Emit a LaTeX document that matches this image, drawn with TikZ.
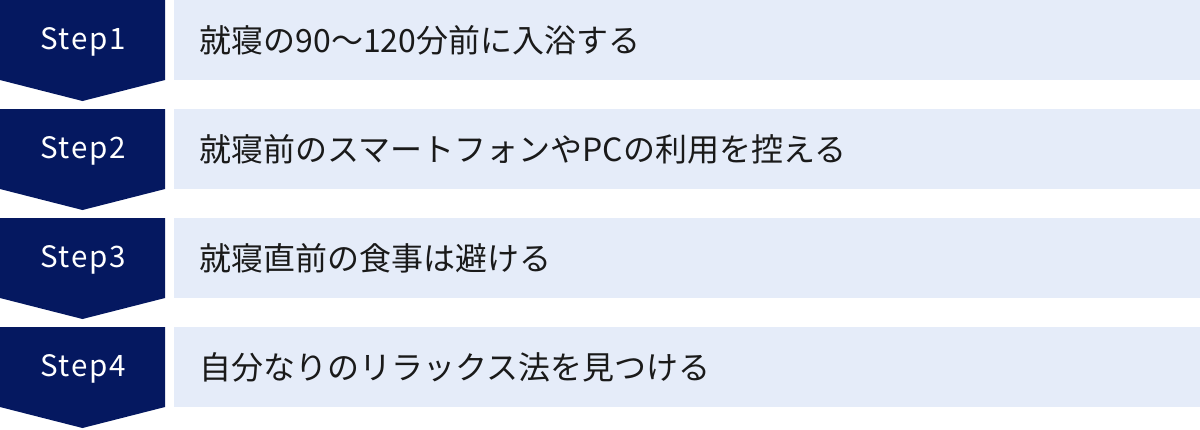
\documentclass[tikz,border=0pt]{standalone}
\usepackage{fontspec}
\setmainfont{Noto Sans CJK JP}
\newfontfamily\stepfont[LetterSpace=6]{Noto Sans CJK JP}
\usetikzlibrary{positioning}
\definecolor{navy}{RGB}{5,24,96}
\definecolor{paleblue}{RGB}{229,236,249}
\definecolor{inkgray}{RGB}{26,26,26}
\tikzset{
  steplabel/.style={anchor=base,text=white,font=\stepfont\fontsize{8.4}{10}\selectfont,inner sep=0pt},
  itemtext/.style={anchor=west,text=inkgray,font=\fontsize{9.1}{11}\selectfont,inner sep=0pt}
}
\begin{document}
\begin{tikzpicture}
    \useasboundingbox (0,0) rectangle (12,-4.29);

    % Step1
    \fill [navy] (0,0) -- (1.65,0) -- (1.65,-.8) -- (.825,-1.01) -- (0,-.8) -- cycle;
    \fill [paleblue] (1.74,0) rectangle (12,-.8);
    \node [steplabel] (s1) at (.83,-.49) {Step1};
    \node [itemtext] (t1) at (1.99,-.4) {就寝の90〜120分前に入浴する};

    % Step2
    \fill [navy] (0,-1.09) -- (1.65,-1.09) -- (1.65,-1.89) -- (.825,-2.1) -- (0,-1.89) -- cycle;
    \fill [paleblue] (1.74,-1.09) rectangle (12,-1.89);
    \node [steplabel] (s2) at (.83,-1.58) {Step2};
    \node [itemtext] (t2) at (1.99,-1.49) {就寝前のスマートフォンやPCの利用を控える};

    % Step3
    \fill [navy] (0,-2.18) -- (1.65,-2.18) -- (1.65,-2.98) -- (.825,-3.19) -- (0,-2.98) -- cycle;
    \fill [paleblue] (1.74,-2.18) rectangle (12,-2.98);
    \node [steplabel] (s3) at (.83,-2.67) {Step3};
    \node [itemtext] (t3) at (1.99,-2.58) {就寝直前の食事は避ける};

    % Step4
    \fill [navy] (0,-3.27) -- (1.65,-3.27) -- (1.65,-4.07) -- (.825,-4.28) -- (0,-4.07) -- cycle;
    \fill [paleblue] (1.74,-3.27) rectangle (12,-4.07);
    \node [steplabel] (s4) at (.83,-3.76) {Step4};
    \node [itemtext] (t4) at (1.99,-3.67) {自分なりのリラックス法を見つける};
\end{tikzpicture}
\end{document}
